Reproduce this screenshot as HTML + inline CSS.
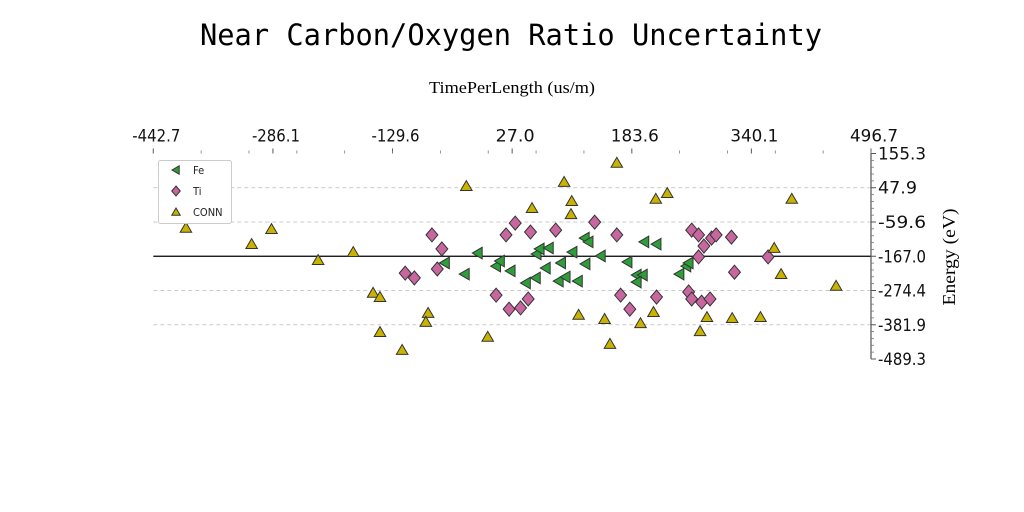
<!DOCTYPE html>
<html><head><meta charset="utf-8"><style>
html,body{margin:0;padding:0;background:#fff;width:1024px;height:512px;overflow:hidden}
svg text{font-family:"DejaVu Sans Condensed","Liberation Sans Narrow","Liberation Sans",sans-serif}
</style></head><body>
<svg id="chart" width="1024" height="512" viewBox="0 0 1024 512" xmlns="http://www.w3.org/2000/svg">
<text x="511" y="45" text-anchor="middle" font-size="29" textLength="622" lengthAdjust="spacingAndGlyphs" style="font-family:'DejaVu Sans Mono','Liberation Mono',monospace">Near Carbon/Oxygen Ratio Uncertainty</text>
<text x="512" y="93" text-anchor="middle" font-size="17" textLength="166" lengthAdjust="spacingAndGlyphs" style="font-family:'Liberation Serif',serif">TimePerLength (us/m)</text>
<text transform="translate(955,257) rotate(-90)" text-anchor="middle" font-size="18" textLength="97" lengthAdjust="spacingAndGlyphs" style="font-family:'Liberation Serif',serif">Energy (eV)</text>
<g id="grid"></g><g id="axes"></g><g id="marks"></g><g id="legend"></g>
</svg>
<script>
const xTicks=[-442.7,-286.1,-129.6,27.0,183.6,340.1,496.7];
const yTicks=[155.3,47.9,-59.6,-167.0,-274.4,-381.9,-489.3];
const feX=[-18,-61,-35,6,11,25,45,58,71,59,63,75,91,88,97,113,106,123,122,127,143,178,190,198,190,200,216,246,255,258];
const feY=[-157,-188,-223,-198,-182,-213,-251,-235,-204,-160,-144,-141,-188,-245,-232,-245,-154,-191,-110,-122,-166,-185,-226,-226,-248,-122,-129,-223,-198,-188];
const tiX=[-78,-65,-113,-101,-71,6,23,19,31,51,84,135,164,38,48,169,181,216,262,271,278,288,294,271,314,318,362,258,262,275,286];
const tiY=[-100,-144,-220,-235,-207,-289,-333,-100,-63,-91,-85,-60,-100,-329,-301,-289,-333,-295,-85,-100,-135,-110,-100,-169,-107,-217,-169,-279,-301,-311,-301];
const connX=[-400,-314,-288,-227,-181,-155,-146,-146,-117,-83,-86,-33,-5,53,95,105,104,114,148,155,164,195,215,212,230,273,282,315,352,370,379,393,451];
const connY=[-78,-129,-82,-179,-154,-282,-295,-405,-461,-345,-373,53,-420,-16,66,6,-35,-351,-364,-442,126,-377,13,-342,31,-402,-358,-361,-358,-141,-223,13,-260];
const X0=153.3,X1=871,Y0=153.5,Y1=359;
const xs=v=>X0+(v-xTicks[0])/(xTicks[6]-xTicks[0])*(X1-X0);
const ys=v=>Y0+(yTicks[0]-v)/(yTicks[0]-yTicks[6])*(Y1-Y0);
const NS='http://www.w3.org/2000/svg';
function mk(tag,attrs,parent){const e=document.createElementNS(NS,tag);for(const k in attrs)e.setAttribute(k,attrs[k]);document.getElementById(parent).appendChild(e);return e;}
yTicks.forEach((v,i)=>{if(i===0||i===6)return;const y=ys(v);
 const g=mk('line',{x1:X0,x2:X1,y1:y,y2:y,stroke:i===3?'#000':'#bbb','stroke-width':i===3?1.2:0.8,'stroke-dasharray':i===3?'none':'4,3'},'grid');
 
 });
let sp=mk('line',{x1:X1,x2:X1,y1:Y0,y2:Y1,stroke:'#555','stroke-width':1.2},'axes');


yTicks.forEach(v=>{const y=ys(v);
 const t=mk('line',{x1:X1,x2:X1+5,y1:y,y2:y,stroke:'#555','stroke-width':1},'axes');
 
 
 const l=mk('text',{x:X1+7,y:y+6,'font-size':17,fill:'#111',textLength:48,lengthAdjust:'spacingAndGlyphs'},'axes');l.textContent=v.toFixed(1);
 if(v.toFixed(1).length===4)l.setAttribute('textLength',39);
 
 });
for(let i=0;i<30;i++){const y=Y0+(Y1-Y0)*i/30;if(i%5===0)continue;
 const t=mk('line',{x1:X1,x2:X1+3,y1:y,y2:y,stroke:'#777','stroke-width':0.8},'axes');
 
 }
xTicks.forEach(v=>{const x=xs(v);
 const t=mk('line',{x1:x,x2:x,y1:Y0-5,y2:Y0,stroke:'#555','stroke-width':1},'axes');
 
 
 const l=mk('text',{x:x+3,y:Y0-12,'font-size':17,'text-anchor':'middle',fill:'#111'},'axes');l.textContent=v.toFixed(1);
 l.setAttribute('textLength',v.toFixed(1).length===4?39:48);
 l.setAttribute('lengthAdjust','spacingAndGlyphs');
 
 });
for(let i=0;i<=15;i++){const x=X0+(X1-X0)*i/15;
 const t=mk('line',{x1:x,x2:x,y1:Y0-3,y2:Y0,stroke:'#777','stroke-width':0.8},'axes');
 
 }
function tri(x,y,s){return `${x},${y-s} ${x-s*1.05},${y+s*0.8} ${x+s*1.05},${y+s*0.8}`;}
function ltri(x,y,s){return `${x-s},${y} ${x+s*0.8},${y-s*1.05} ${x+s*0.8},${y+s*1.05}`;}
function dia(x,y,s){return `${x},${y-s} ${x+s*0.85},${y} ${x},${y+s} ${x-s*0.85},${y}`;}
const FE='#2e9e3a',TI='#c7669f',CO='#c9b300';
tiX.forEach((v,i)=>{const p=mk('polygon',{points:dia(xs(v),ys(tiY[i]),7),fill:TI,stroke:'#333','stroke-width':1},'marks');
 
 });
feX.forEach((v,i)=>{const p=mk('polygon',{points:ltri(xs(v),ys(feY[i]),5.5),fill:FE,stroke:'#333','stroke-width':1},'marks');
 
 });
connX.forEach((v,i)=>{const p=mk('polygon',{points:tri(xs(v),ys(connY[i]),5.5),fill:CO,stroke:'#333','stroke-width':1},'marks');
 
 });
const lb=mk('rect',{x:158.5,y:160.5,width:73,height:63,rx:2,fill:'#fff',stroke:'#ccc','stroke-width':1},'legend');


const ents=[['Fe',FE,ltri,170],['Ti',TI,dia,191],['CONN',CO,tri,212]];
ents.forEach(e=>{const p=mk('polygon',{points:e[2](176,e[3],e[2]===dia?5:4),fill:e[1],stroke:'#333','stroke-width':1},'legend');
 
 
 const t=mk('text',{x:193,y:e[3]+4,'font-size':11,fill:'#222'},'legend');t.textContent=e[0];
 
 });
</script>
</body></html>
